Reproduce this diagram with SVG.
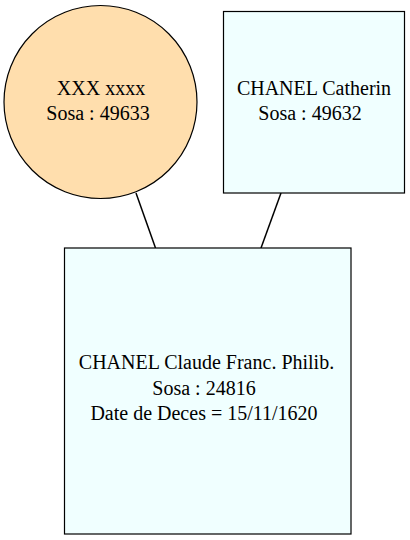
<svg xmlns="http://www.w3.org/2000/svg" width="410" height="540" viewBox="0 0 410 540">
<style>
.t{font-size:20px;fill:#000;text-anchor:middle}
.box{fill:#F0FFFF;stroke:#000;stroke-width:1.2}
.circ{fill:#FFDEAD;stroke:#000;stroke-width:1.2}
.edge{stroke:#000;stroke-width:1.5;fill:none}
</style>
<rect width="410" height="540" fill="#fff"/>
<g id="connectors">
<line class="edge" x1="136" y1="193" x2="155.5" y2="248"/>
<line class="edge" x1="281" y1="193" x2="261" y2="248"/>
</g>
<g font-family="'Liberation Serif', 'Times New Roman', Times, serif">
<g id="node_49633">
<circle class="circ" cx="100.5" cy="102" r="96.5"/>
<text class="t" x="101" y="95">XXX xxxx</text>
<text class="t" x="98" y="120">Sosa : 49633</text>
</g>
<g id="node_49632">
<rect class="box" x="223.5" y="11.5" width="181" height="181.5"/>
<text class="t" x="314" y="95">CHANEL Catherin</text>
<text class="t" x="310" y="120">Sosa : 49632</text>
</g>
<g id="node_24816">
<rect class="box" x="64.5" y="248" width="286.5" height="286"/>
<text class="t" x="206.5" y="369">CHANEL Claude Franc. Philib.</text>
<text class="t" x="204" y="395">Sosa : 24816</text>
<text class="t" x="204" y="420">Date de Deces = 15/11/1620</text>
</g>
</g>
</svg>
